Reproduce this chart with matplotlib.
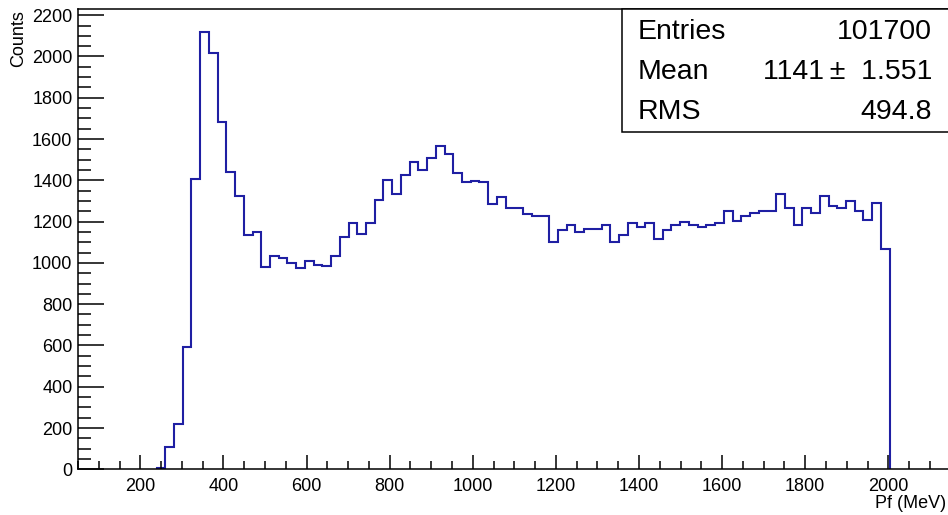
import numpy as np
import matplotlib
matplotlib.use("Agg")
import matplotlib.pyplot as plt
from matplotlib import patches
from matplotlib.ticker import MultipleLocator

plt.rcParams['font.family'] = ['Liberation Sans', 'DejaVu Sans']

# histogram binning: 100 bins of 21 MeV over [50, 2150], only filled bins listed
x_min, x_max = 50, 2150
bin_width = 21
first_bin = 9
counts = [
    6, 110, 218, 592, 1408, 2117, 2018, 1684, 1440, 1326,
    1133, 1151, 978, 1031, 1026, 1000, 976, 1008, 992, 984,
    1032, 1124, 1191, 1142, 1191, 1307, 1400, 1334, 1426, 1491,
    1450, 1507, 1568, 1526, 1436, 1392, 1399, 1392, 1284, 1318,
    1268, 1268, 1236, 1226, 1226, 1102, 1158, 1182, 1150, 1165,
    1165, 1182, 1100, 1134, 1192, 1174, 1194, 1116, 1157, 1184,
    1200, 1182, 1174, 1184, 1194, 1249, 1202, 1225, 1241, 1250,
    1250, 1333, 1268, 1184, 1266, 1241, 1326, 1276, 1266, 1300,
    1249, 1210, 1292, 1065,
]

stat_names = ["Entries", "Mean", "RMS"]
stat_values = ["101700", "1141\u2009\u00b1  1.551", "494.8"]

y_max = 2230
line_color = "#1f1fa3"

edges = x_min + bin_width * np.arange(first_bin, first_bin + len(counts) + 1)

W, H = 948, 515
fig = plt.figure(figsize=(W / 100, H / 100), dpi=100)
ax = fig.add_axes([78 / W, (H - 469.3) / H, (950.7 - 78) / W, (469.3 - 9) / H])

ax.stairs(counts, edges, baseline=0, color=line_color, linewidth=1.5)

ax.set_xlim(x_min, x_max)
ax.set_ylim(0, y_max)

ax.xaxis.set_major_locator(MultipleLocator(200))
ax.xaxis.set_minor_locator(MultipleLocator(50))
ax.yaxis.set_major_locator(MultipleLocator(200))
ax.yaxis.set_minor_locator(MultipleLocator(50))

for sp in ax.spines.values():
    sp.set_linewidth(1.1)
    sp.set_color("black")

ax.tick_params(axis="both", which="both", direction="in", top=False, right=False,
               width=1.1, color="black", labelsize=13)
ax.tick_params(axis="y", which="major", length=18.7, pad=4)
ax.tick_params(axis="y", which="minor", length=9.4)
ax.tick_params(axis="x", which="major", length=10.3, pad=6)
ax.tick_params(axis="x", which="minor", length=5.5)

fig.text(19 / W, 1 - 10 / H, "Counts", rotation=90, ha="center", va="top", fontsize=13)
fig.text(946 / W, 1 - 504 / H, "Pf (MeV)", ha="right", va="center", fontsize=13)

# statistics box in the upper right corner
box = patches.Rectangle((622 / W, 1 - 132 / H), 0.5, (132 - 9) / H, transform=fig.transFigure,
                        facecolor="white", edgecolor="black", linewidth=1.1, zorder=5)
fig.patches.append(box)
for i, (name, val) in enumerate(zip(stat_names, stat_values)):
    y = 1 - (32 + 40 * i) / H
    fig.text(638 / W, y, name, ha="left", va="center", fontsize=20.5, zorder=6)
    fig.text(932 / W, y, val, ha="right", va="center", fontsize=20.5, zorder=6)

fig.savefig("out.png", dpi=100)
plt.close(fig)
